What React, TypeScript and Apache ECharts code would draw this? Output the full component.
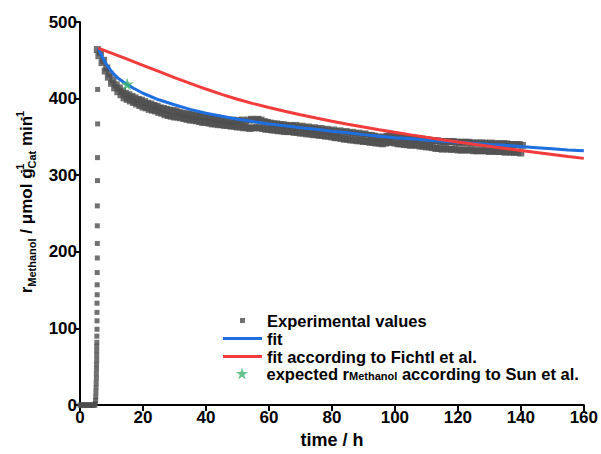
import React, { useEffect, useRef } from "react";
import * as echarts from "echarts";

// ---- data ----
const startTimes = [0, 0.3, 0.6, 0.9, 1.2, 1.5, 1.8, 2.1, 2.4, 2.7, 3.0, 3.3, 3.6, 3.9, 4.2, 4.5, 4.7, 4.85, 4.95, 5.0, 5.05, 5.1, 5.15, 5.2, 5.2, 5.25, 5.25, 5.3, 5.3, 5.3, 5.3, 5.35, 5.35, 5.4, 5.4, 5.4, 5.4, 5.45, 5.45, 5.45, 5.5, 5.5, 5.5, 5.5, 5.55, 5.55, 5.6, 5.6];
const startValues = [0, 0, 0, 0, 0, 0, 0, 0, 0, 0, 0, 0, 0, 0, 0, 0, 0, 2, 6, 11, 17, 23, 29, 35, 41, 47, 53, 59, 65, 71, 77, 82, 90, 99, 110, 121, 133, 144, 157, 173, 192, 211, 234, 260, 293, 323, 367, 412];

// decay phase, sampled every 0.5 h from 5.5 h to 140 h
const decayStart = 5.5;
const decayStep = 0.5;
const decayValues = [
  464, 456,
  460, 447, 450, 436, 440, 428, 432, 420, 424, 414, 418, 409, 414, 405, 410, 401, 407, 399, 405, 397,
  403, 395, 401, 393, 399, 391, 398, 389, 396, 388, 394, 386, 393, 385, 391, 384, 390, 382, 388, 381,
  387, 379, 386, 378, 385, 377, 384, 376, 384, 376, 382, 375, 381, 374, 380, 373, 380, 372, 379, 372,
  378, 371, 377, 370, 378, 369, 376, 369, 376, 368, 375, 367, 374, 367, 375, 366, 373, 366, 373, 365,
  372, 365, 371, 364, 372, 364, 371, 363, 371, 363, 372, 362, 370, 362, 372, 361, 373, 362, 372, 362,
  373, 362, 372, 361, 370, 360, 369, 360, 368, 359, 367, 359, 367, 358, 366, 358, 366, 357, 365, 357,
  365, 357, 364, 356, 365, 356, 363, 355, 364, 355, 362, 354, 363, 354, 361, 353, 362, 353, 360, 352,
  361, 352, 359, 351, 360, 351, 358, 350, 359, 349, 357, 349, 358, 348, 356, 347, 357, 347, 355, 346,
  356, 346, 354, 345, 355, 345, 353, 344, 354, 344, 352, 343, 352, 343, 351, 342, 350, 342, 349, 341,
  350, 342, 351, 343, 352, 343, 351, 342, 351, 341, 350, 341, 349, 340, 349, 340, 348, 339, 348, 340,
  347, 339, 347, 338, 347, 338, 346, 337, 346, 337, 345, 336, 345, 335, 345, 335, 344, 334, 344, 335,
  344, 334, 344, 334, 344, 334, 343, 333, 343, 333, 343, 333, 343, 333, 343, 333, 342, 332, 342, 332,
  342, 332, 342, 332, 342, 332, 341, 331, 342, 332, 341, 331, 341, 331, 341, 331, 341, 330, 341, 331,
  340, 330, 340, 330, 340, 330, 340, 329, 339,
];

const fitTimes = [5.8, 6.5, 7, 8, 9, 10, 11, 12, 13, 14, 15, 17, 20, 25, 30, 35, 40, 45, 50, 55, 60, 65, 70, 75, 80, 85, 90, 95, 100, 105, 110, 115, 120, 125, 130, 135, 140, 145, 150, 155, 160];
const fitValues = [466, 459, 455, 447, 441, 435.5, 431, 427, 424, 421, 418.5, 413.5, 407, 398.5, 392, 386, 381, 377, 373, 370, 367, 364.5, 362, 360, 357.5, 355.5, 353, 351, 349, 347.5, 346, 344.5, 343, 341.5, 340, 339, 337.5, 336, 334.5, 333, 332];

const fichtlTimes = [5.8, 10, 15, 20, 25, 30, 35, 40, 45, 50, 55, 60, 65, 70, 75, 80, 85, 90, 95, 100, 105, 110, 115, 120, 125, 130, 135, 140, 145, 150, 155, 160];
const fichtlValues = [466, 459.5, 451.5, 443.5, 435.5, 427.5, 419.8, 412.5, 405.5, 399.2, 393.5, 388.4, 383.6, 379, 374.6, 370.5, 366.6, 362.9, 359.4, 356, 352.7, 349.5, 346.4, 343.4, 340.5, 337.7, 335, 332.3, 329.7, 327.1, 324.5, 322];

const sunTimes = [15];
const sunValues = [419];

const xTicks = [0, 20, 40, 60, 80, 100, 120, 140, 160];
const yTicks = [0, 100, 200, 300, 400, 500];

const STAR = "path://M50,0 L61,35 L98,35 L68,57 L79,91 L50,70 L21,91 L32,57 L2,35 L39,35 Z";
const STAR_LEGEND = "path://M0,0 M100,100 M50,8 L60,40 L94,40 L66,59 L77,92 L50,72 L23,92 L34,59 L6,40 L40,40 Z";
const SQUARE_LEGEND = "path://M0,0 M14,14 M4.5,4.5 L9.5,4.5 L9.5,9.5 L4.5,9.5 Z";
const LINE_LEGEND = "path://M0,0 L40,0 L40,3 L0,3 Z";

const FONT = "'Liberation Sans', Arial, Helvetica, sans-serif";
const GRAY = "#4d4d4d";
const BLUE = "#1e6fdf";
const RED = "#f23b3b";
const GREEN = "#3cb371";

const legendText = {
  fontFamily: FONT,
  fontWeight: "bold",
  fontSize: 16.5,
  lineHeight: 16,
  color: "#000",
  rich: {
    n: { fontFamily: FONT, fontWeight: "bold", fontSize: 16.5, lineHeight: 16, color: "#000" },
    s: { fontFamily: FONT, fontWeight: "bold", fontSize: 11, lineHeight: 11, verticalAlign: "bottom", color: "#000" },
  },
};

export default function App() {
  const ref = useRef<HTMLDivElement>(null);

  useEffect(() => {
    if (!ref.current) return;
    const chart = echarts.init(ref.current, undefined, { renderer: "svg" });

    const startData = startTimes.map((t, i) => [t, startValues[i]]);
    const decayData = decayValues.map((v, i) => [decayStart + i * decayStep, v]);

    const legendBase = {
      orient: "vertical",
      padding: 0,
      itemWidth: 39,
      itemHeight: 14,
      itemGap: 1,
      selectedMode: false,
      textStyle: legendText,
    };

    const option: any = {
      animation: false,
      backgroundColor: "#ffffff",
      grid: { left: 80, right: 15, top: 22, bottom: 48, containLabel: false },
      xAxis: {
        type: "value",
        min: xTicks[0],
        max: xTicks[xTicks.length - 1],
        interval: 20,
        name: "time / h",
        nameLocation: "middle",
        nameGap: 25,
        nameTextStyle: { fontFamily: FONT, fontWeight: "bold", fontSize: 18, color: "#000" },
        axisLine: { show: true, onZero: false, lineStyle: { color: "#000", width: 2 } },
        axisTick: { show: true, inside: false, length: 6, lineStyle: { color: "#000", width: 2 } },
        axisLabel: { fontFamily: FONT, fontWeight: "bold", fontSize: 17, color: "#000", margin: 4 },
        splitLine: { show: false },
      },
      yAxis: {
        type: "value",
        min: yTicks[0],
        max: yTicks[yTicks.length - 1],
        interval: 100,
        name: "{b|r}{s|Methanol}{b| / μmol g}{sp|-1}{s|Cat}{b| min}{sp|-1}",
        nameLocation: "middle",
        nameRotate: 90,
        nameGap: 42,
        nameTextStyle: {
          fontFamily: FONT,
          fontWeight: "bold",
          fontSize: 17,
          color: "#000",
          padding: [0, 0, 0, 18],
          rich: {
            b: { fontFamily: FONT, fontWeight: "bold", fontSize: 17, lineHeight: 23, color: "#000" },
            s: { fontFamily: FONT, fontWeight: "bold", fontSize: 11, lineHeight: 11, verticalAlign: "bottom", color: "#000" },
            sp: { fontFamily: FONT, fontWeight: "bold", fontSize: 11, lineHeight: 11, verticalAlign: "top", width: 0, color: "#000" },
          },
        },
        axisLine: { show: true, onZero: false, lineStyle: { color: "#000", width: 2 } },
        axisTick: { show: true, inside: false, length: 6, lineStyle: { color: "#000", width: 2 } },
        axisLabel: { fontFamily: FONT, fontWeight: "bold", fontSize: 17, color: "#000", margin: 3 },
        splitLine: { show: false },
      },
      legend: [
        {
          ...legendBase,
          left: 223,
          top: 312,
          data: [
            { name: "Experimental values", icon: SQUARE_LEGEND, itemStyle: { color: GRAY } },
            { name: "fit", icon: LINE_LEGEND, itemStyle: { color: BLUE } },
            { name: "fit according to Fichtl et al.", icon: LINE_LEGEND, itemStyle: { color: RED } },
          ],
        },
        {
          ...legendBase,
          left: 235,
          top: 365,
          formatter: () => "{n|expected r}{s|Methanol}{n| according to Sun et al.}",
          data: [{ name: "expected", icon: STAR_LEGEND, itemStyle: { color: GREEN } }],
        },
      ],
      series: [
        {
          name: "Experimental values",
          type: "scatter",
          data: startData,
          symbol: "rect",
          symbolSize: 5,
          itemStyle: { color: GRAY },
          z: 1,
        },
        {
          name: "Experimental values",
          type: "scatter",
          data: decayData,
          symbol: "rect",
          symbolSize: 7,
          itemStyle: { color: GRAY },
          z: 1,
        },
        {
          name: "fit",
          type: "line",
          data: fitTimes.map((t, i) => [t, fitValues[i]]),
          smooth: false,
          symbol: "none",
          lineStyle: { color: BLUE, width: 3 },
          itemStyle: { color: BLUE },
          z: 2,
        },
        {
          name: "fit according to Fichtl et al.",
          type: "line",
          data: fichtlTimes.map((t, i) => [t, fichtlValues[i]]),
          smooth: false,
          symbol: "none",
          lineStyle: { color: RED, width: 3 },
          itemStyle: { color: RED },
          z: 3,
        },
        {
          name: "expected",
          type: "scatter",
          data: sunTimes.map((t, i) => [t, sunValues[i]]),
          symbol: STAR,
          symbolSize: 13,
          itemStyle: { color: GREEN },
          z: 4,
        },
      ],
    };

    chart.setOption(option);
    return () => chart.dispose();
  }, []);

  return (
    <div
      ref={ref}
      style={{ position: "fixed", left: 0, top: 0, width: 601, height: 454, background: "#fff" }}
    />
  );
}
